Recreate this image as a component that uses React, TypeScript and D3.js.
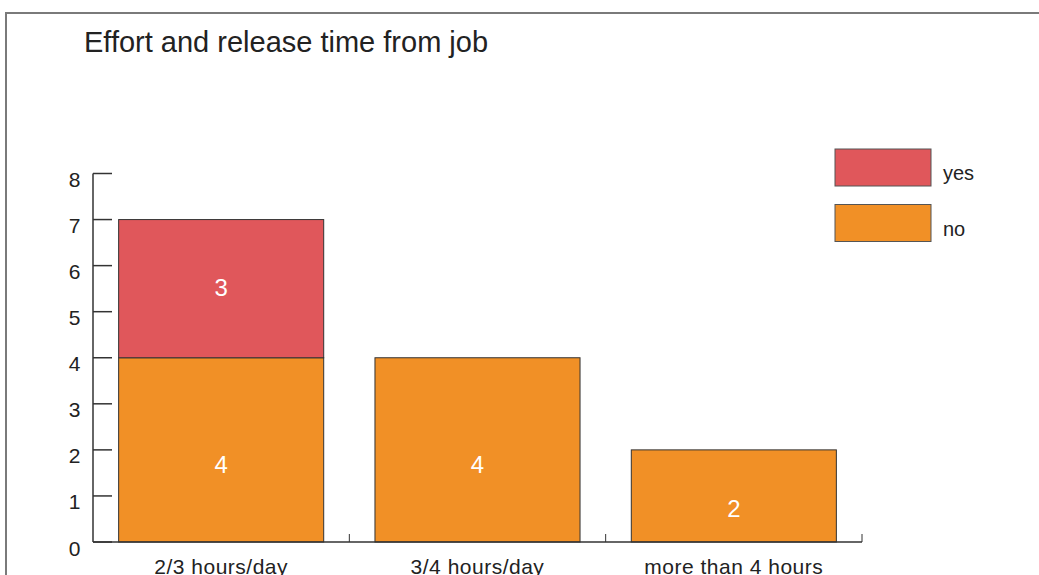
import React from "react";
import * as d3 from "d3";

const categories = ["2/3 hours/day", "3/4 hours/day", "more than 4 hours"];
const seriesNames = ["no", "yes"];
const noValues = [4, 4, 2];
const yesValues = [3, 0, 0];
const yTicks = [0, 1, 2, 3, 4, 5, 6, 7, 8];
const legendItems = ["yes", "no"];
const title = "Effort and release time from job";

const colors: Record<string, string> = { yes: "#E0575B", no: "#F19026" };
const FONT = "'Liberation Sans', Arial, Helvetica, sans-serif";

export default function App() {
  const W = 1039, H = 575;
  const x0 = 93, x1 = 862, yBase = 542, yTop = 173.5;
  const x = d3.scaleBand<string>().domain(categories).range([x0, x1]).padding(0);
  const y = d3.scaleLinear().domain([0, 8]).range([yBase, yTop]);
  const barW = x.bandwidth() * 0.8;

  const rows = categories.map((c, i) => ({ cat: c, no: noValues[i], yes: yesValues[i] }));
  const stacked = d3.stack<any>().keys(seriesNames)(rows);

  const lx = d3.scaleBand<string>().domain(legendItems).range([149, 260]).padding(0);

  return (
    <div style={{ position: "fixed", left: 0, top: 0 }}>
      <svg width={W} height={H} style={{ display: "block", fontFamily: FONT }}>
        <rect x={0} y={0} width={W} height={H} fill="#fff" />
        <rect x={6} y={13} width={1040} height={600} fill="none" stroke="#7a7a7a" strokeWidth={2} />
        <text x={84} y={52} fontSize={29} fill="#222">{title}</text>

        {stacked.map((s) =>
          s.map((d, i) => {
            const v = d[1] - d[0];
            if (v <= 0) return null;
            const bx = (x(categories[i]) as number) + (x.bandwidth() - barW) / 2;
            return (
              <g key={s.key + i}>
                <rect x={bx} y={y(d[1])} width={barW} height={y(d[0]) - y(d[1])}
                  fill={colors[s.key]} stroke="#333" strokeWidth={1} />
              </g>
            );
          })
        )}
        {stacked.map((s) =>
          s.map((d, i) => {
            const v = d[1] - d[0];
            if (v <= 0) return null;
            const cx = (x(categories[i]) as number) + x.bandwidth() / 2;
            const cy = (y(d[0]) + y(d[1])) / 2 + (s.key === "no" ? (v >= 4 ? 14.5 : 12) : -1);
            return (
              <text key={"t" + s.key + i} x={cx} y={cy} dy="0.36em" textAnchor="middle"
                fontSize={24} fill="#fff">{v}</text>
            );
          })
        )}

        <line x1={x0} x2={x0} y1={yTop} y2={yBase} stroke="#333" strokeWidth={1.5} />
        {yTicks.map((t) => (
          <g key={"y" + t}>
            <line x1={x0} x2={112} y1={y(t)} y2={y(t)} stroke="#333" strokeWidth={1.5} />
            <text x={80.5} y={y(t) + 6} dy="0.36em" textAnchor="end" fontSize={21} fill="#222">{t}</text>
          </g>
        ))}
        <line x1={x0} x2={x1} y1={yBase} y2={yBase} stroke="#333" strokeWidth={1.5} />
        {categories.map((c) => (
          <g key={"x" + c}>
            <line x1={(x(c) as number) + x.bandwidth()} x2={(x(c) as number) + x.bandwidth()}
              y1={yBase} y2={yBase - 8} stroke="#333" strokeWidth={1} />
            <text x={(x(c) as number) + x.bandwidth() / 2} y={574} textAnchor="middle"
              fontSize={21} fill="#222" letterSpacing={0.5}>{c}</text>
          </g>
        ))}

        {legendItems.map((k) => (
          <g key={"l" + k}>
            <rect x={835} y={lx(k) as number} width={96} height={37} fill={colors[k]} stroke="#555" strokeWidth={1} />
            <text x={943} y={(lx(k) as number) + 31} fontSize={20} fill="#222">{k}</text>
          </g>
        ))}
      </svg>
    </div>
  );
}
